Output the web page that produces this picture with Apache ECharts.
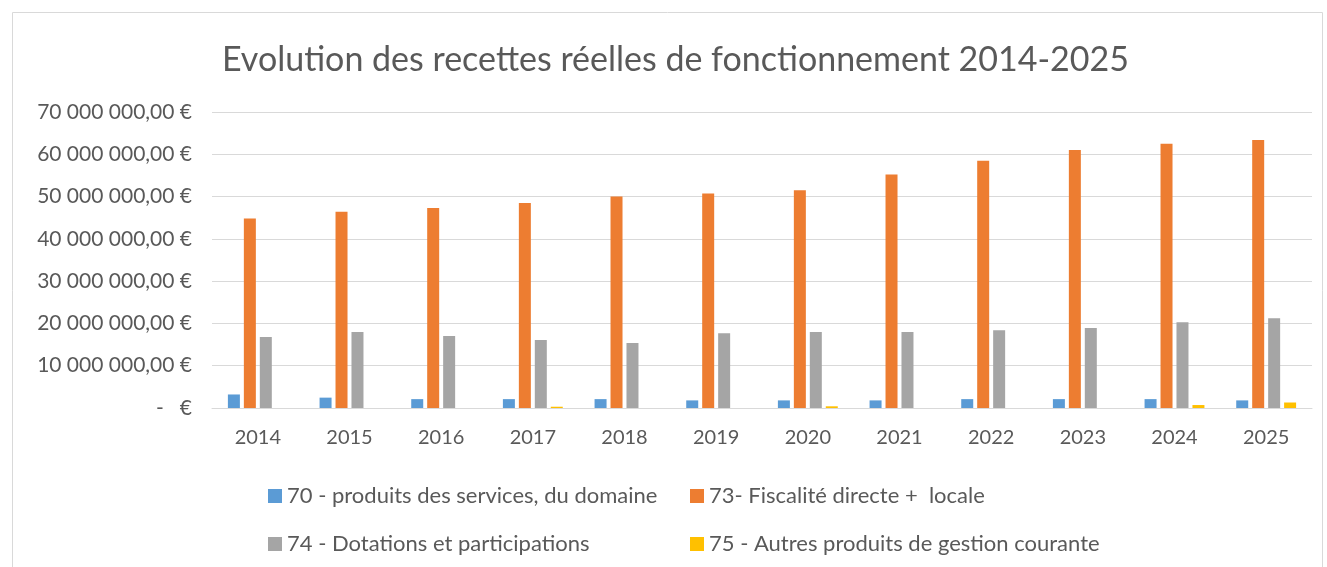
<!DOCTYPE html>
<html lang="fr">

<head>
    <meta http-equiv="Content-Type" content="text/html; charset=utf-8" />
    <title>Evolution des recettes réelles de fonctionnement 2014-2025</title>
    <style>
        html,
        body,
        #myChart {
            width: 100%;
            height: 100%;
            margin: 0;
            padding: 0;
            overflow: hidden;
            background: #ffffff;
        }
    </style>
</head>

<body>
    <div id="myChart"></div>
    <script src="https://cdn.jsdelivr.net/npm/echarts@6/dist/echarts.min.js"></script>
    <script>
        var annees = ['2014', '2015', '2016', '2017', '2018', '2019', '2020', '2021', '2022', '2023', '2024', '2025'];
        var noms = [
            '70 - produits des services, du domaine',
            '73- Fiscalité directe +  locale',
            '74 - Dotations et participations',
            '75 - Autres produits de gestion courante'
        ];
        var produitsServices = [3200000, 2450000, 2100000, 2100000, 2100000, 1800000, 1800000, 1800000, 2100000, 2100000, 2100000, 1800000];
        var fiscalite = [44800000, 46400000, 47300000, 48500000, 50000000, 50700000, 51500000, 55200000, 58500000, 61000000, 62500000, 63400000];
        var dotations = [16800000, 18000000, 17000000, 16100000, 15400000, 17700000, 18000000, 18000000, 18400000, 18900000, 20300000, 21200000];
        var autresProduits = [0, 0, 0, 300000, 0, 0, 400000, 0, 0, 0, 700000, 1300000];
        var couleurs = ['#5b9bd5', '#ed7d31', '#a5a5a5', '#ffc000'];

        var police = 'Lato, "Open Sans", sans-serif';
        var gris = '#595959';

        // format monétaire façon Excel : "70 000 000,00 €", zéro -> "-   €"
        function euro(v) {
            if (v === 0) return '-   €';
            var s = String(Math.round(v)).replace(/\B(?=(\d{3})+(?!\d))/g, ' ');
            return s + ',00 €';
        }

        function legende(nom, x, y) {
            return {
                left: x,
                top: y,
                data: [nom],
                icon: 'rect',
                itemWidth: 14,
                itemHeight: 14,
                itemGap: 4,
                textStyle: { color: gris, fontSize: 22, fontFamily: police }
            };
        }

        var myChart = echarts.init(document.getElementById('myChart'));
        var valeurs = [produitsServices, fiscalite, dotations, autresProduits];
        var series = [];
        for (var i = 0; i < noms.length; i++) {
            series.push({
                name: noms[i],
                type: 'bar',
                data: valeurs[i],
                barWidth: 12,
                barGap: '33%',
                itemStyle: { color: couleurs[i] }
            });
        }

        var option = {
            animation: false,
            title: {
                text: 'Evolution des recettes réelles de fonctionnement 2014-2025',
                left: 217,
                top: 38,
                textStyle: { color: gris, fontSize: 34, fontWeight: 'normal', fontFamily: police }
            },
            graphic: [{
                type: 'rect',
                shape: { x: 12.5, y: 12.5, width: 1310, height: 560 },
                style: { fill: 'none', stroke: '#d9d9d9', lineWidth: 1 },
                silent: true
            }],
            legend: [
                legende(noms[0], 263, 480),
                legende(noms[1], 685, 480),
                legende(noms[2], 263, 528),
                legende(noms[3], 685, 528)
            ],
            grid: {
                left: 212,
                right: 15,
                top: 112,
                bottom: 159,
                containLabel: false
            },
            xAxis: {
                type: 'category',
                data: annees,
                axisTick: { show: false },
                axisLine: { lineStyle: { color: '#d9d9d9' } },
                axisLabel: { color: gris, fontSize: 20, fontFamily: police, margin: 20 }
            },
            yAxis: {
                type: 'value',
                min: 0,
                max: 70000000,
                interval: 10000000,
                axisLine: { show: false },
                axisTick: { show: false },
                splitLine: { lineStyle: { color: '#d9d9d9' } },
                axisLabel: {
                    color: gris,
                    fontSize: 21,
                    fontFamily: police,
                    margin: 20,
                    formatter: euro
                }
            },
            series: series
        };
        myChart.setOption(option);
    </script>
</body>

</html>
